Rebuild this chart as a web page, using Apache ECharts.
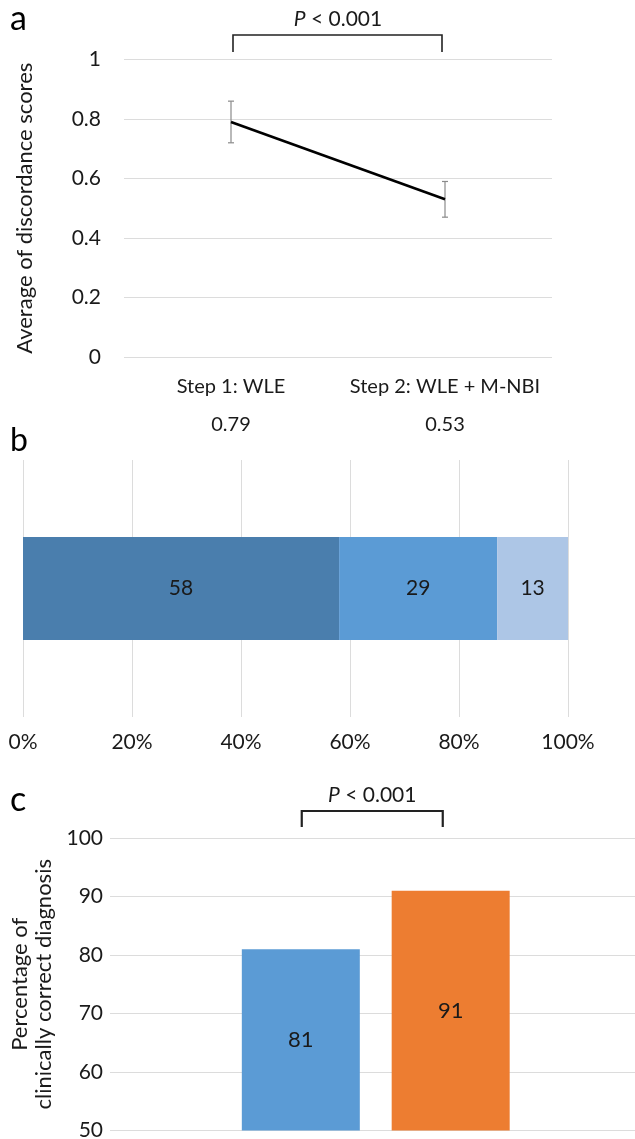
<!DOCTYPE html>
<html>
<head>
<meta charset="utf-8">
<script src="https://cdn.jsdelivr.net/npm/echarts@6/dist/echarts.min.js"></script>
<style>
  html, body { margin: 0; padding: 0; background: #fff; }
  #main { width: 635px; height: 1139px; }
</style>
</head>
<body>
<div id="main"></div>
<script>
// panel a: discordance scores
const stepNames = ['Step 1: WLE', 'Step 2: WLE + M-NBI']
const meanScores = [0.79, 0.53]
const errLow = [0.72, 0.47]
const errHigh = [0.86, 0.59]

// panel b: stacked share
const shareValues = [58, 29, 13]

// panel c: clinically correct diagnosis
const correctPct = [81, 91]

const font = 'Lato, Carlito, Calibri, "Open Sans", sans-serif'
const txt = '#1a1a1a'
const gridColor = '#dcdcdc'
const shareColors = ['#4a7ead', '#5b9bd5', '#adc6e6']
const barColors = ['#5b9bd5', '#ed7d31']

const chart = echarts.init(document.getElementById('main'), null, { renderer: 'canvas' })

const option = {
  animation: false,
  backgroundColor: '#fff',
  textStyle: { fontFamily: font, color: txt },
  grid: [
    { left: 124, right: 83, top: 59.5, height: 297.5 },
    { left: 23, right: 67, top: 460, height: 257 },
    // the plot runs past the right edge of the picture
    { left: 110, right: -6.5, top: 838, height: 292.5, outerBoundsMode: 'none' }
  ],
  xAxis: [
    {
      gridIndex: 0,
      type: 'category',
      data: stepNames,
      axisLine: { show: false },
      axisTick: { show: false },
      axisLabel: {
        margin: 11,
        formatter: function (val, idx) {
          return '{n|' + val + '}\n{v|' + meanScores[idx].toFixed(2) + '}'
        },
        rich: {
          n: { fontSize: 20, lineHeight: 38, fontFamily: font, color: txt },
          v: { fontSize: 20, lineHeight: 38, fontFamily: font, color: txt }
        }
      }
    },
    {
      gridIndex: 1,
      type: 'value',
      min: 0,
      max: 100,
      interval: 20,
      axisLine: { show: false },
      axisTick: { show: false },
      splitLine: { lineStyle: { color: gridColor } },
      axisLabel: { formatter: '{value}%', fontSize: 21, margin: 15, color: txt, fontFamily: font }
    },
    {
      gridIndex: 2,
      type: 'category',
      data: [''],
      axisLine: { show: false },
      axisTick: { show: false },
      axisLabel: { show: false }
    }
  ],
  yAxis: [
    {
      gridIndex: 0,
      type: 'value',
      min: 0,
      max: 1,
      interval: 0.2,
      axisLine: { show: false },
      axisTick: { show: false },
      splitLine: { lineStyle: { color: gridColor } },
      axisLabel: { fontSize: 21, margin: 23, color: txt, fontFamily: font },
      name: 'Average of discordance scores',
      nameLocation: 'middle',
      nameGap: 88,
      nameTextStyle: { fontSize: 22, color: txt, fontFamily: font }
    },
    {
      gridIndex: 1,
      type: 'category',
      data: [''],
      show: false
    },
    {
      gridIndex: 2,
      type: 'value',
      min: 50,
      max: 100,
      interval: 10,
      axisLine: { show: false },
      axisTick: { show: false },
      splitLine: { lineStyle: { color: gridColor } },
      axisLabel: { fontSize: 21, margin: 7, color: txt, fontFamily: font },
      name: 'Percentage of\nclinically correct diagnosis',
      nameLocation: 'middle',
      nameGap: 51,
      nameTextStyle: { fontSize: 22, lineHeight: 24, color: txt, fontFamily: font }
    }
  ],
  series: [
    {
      type: 'line',
      xAxisIndex: 0,
      yAxisIndex: 0,
      data: meanScores,
      symbol: 'none',
      lineStyle: { color: '#000', width: 2.6 },
      z: 3
    },
    {
      type: 'custom',
      xAxisIndex: 0,
      yAxisIndex: 0,
      data: errLow.map(function (lo, i) { return [i, lo, errHigh[i]] }),
      renderItem: function (params, api) {
        const lo = api.coord([api.value(0), api.value(1)])
        const hi = api.coord([api.value(0), api.value(2)])
        const cap = 3
        const st = { stroke: '#8a8a8a', lineWidth: 1.2 }
        return {
          type: 'group',
          children: [
            { type: 'line', shape: { x1: lo[0], y1: lo[1], x2: hi[0], y2: hi[1] }, style: st },
            { type: 'line', shape: { x1: lo[0] - cap, y1: lo[1], x2: lo[0] + cap, y2: lo[1] }, style: st },
            { type: 'line', shape: { x1: hi[0] - cap, y1: hi[1], x2: hi[0] + cap, y2: hi[1] }, style: st }
          ]
        }
      },
      z: 2
    }
  ].concat(shareValues.map(function (v, i) {
    return {
      type: 'bar',
      xAxisIndex: 1,
      yAxisIndex: 1,
      stack: 'share',
      barWidth: 103,
      data: [v],
      itemStyle: { color: shareColors[i] },
      label: { show: true, position: 'inside', fontSize: 21, color: txt, fontFamily: font }
    }
  })).concat(correctPct.map(function (v, i) {
    return {
      type: 'bar',
      xAxisIndex: 2,
      yAxisIndex: 2,
      barWidth: 118,
      barGap: '27%',
      data: [v],
      itemStyle: { color: barColors[i] },
      label: { show: true, position: 'inside', fontSize: 22, color: txt, fontFamily: font }
    }
  }))
}

chart.setOption(option)

// brackets and panel letters, placed from the axes
function pText (x, y) {
  return {
    type: 'text',
    x: x,
    y: y,
    style: {
      text: '{i|P} < 0.001',
      align: 'center',
      verticalAlign: 'middle',
      fontSize: 21,
      fontFamily: font,
      fill: txt,
      rich: { i: { fontStyle: 'italic', fontSize: 21, fontFamily: font, fill: txt } }
    }
  }
}

function bracket (x1, x2, yTop, yBot, w) {
  return {
    type: 'polyline',
    shape: { points: [[x1, yBot], [x1, yTop], [x2, yTop], [x2, yBot]] },
    style: { stroke: '#222', lineWidth: w, fill: null }
  }
}

const a1 = chart.convertToPixel({ xAxisIndex: 0 }, 0)
const a2 = chart.convertToPixel({ xAxisIndex: 0 }, 1)
const aTop = chart.convertToPixel({ yAxisIndex: 0 }, 1)

const cMid = chart.convertToPixel({ xAxisIndex: 2 }, 0)
const cTop = chart.convertToPixel({ yAxisIndex: 2 }, 100)
const c1 = cMid - 74
const c2 = cMid + 67

chart.setOption({
  graphic: [
    { type: 'text', x: 10, y: 19, style: { text: 'a', fontSize: 34, fontFamily: font, fill: '#000', verticalAlign: 'middle' } },
    { type: 'text', x: 10, y: 441, style: { text: 'b', fontSize: 32, fontFamily: font, fill: '#000', verticalAlign: 'middle' } },
    { type: 'text', x: 10, y: 800, style: { text: 'c', fontSize: 34, fontFamily: font, fill: '#000', verticalAlign: 'middle' } },
    bracket(a1 + 2, a2 - 3, aTop - 24.5, aTop - 7.5, 1.6),
    pText((a1 + a2) / 2, 19),
    bracket(c1, c2, cTop - 27, cTop - 11, 2.2),
    pText((c1 + c2) / 2, 795)
  ]
})

window.addEventListener('resize', function () { chart.resize() })
</script>
</body>
</html>
